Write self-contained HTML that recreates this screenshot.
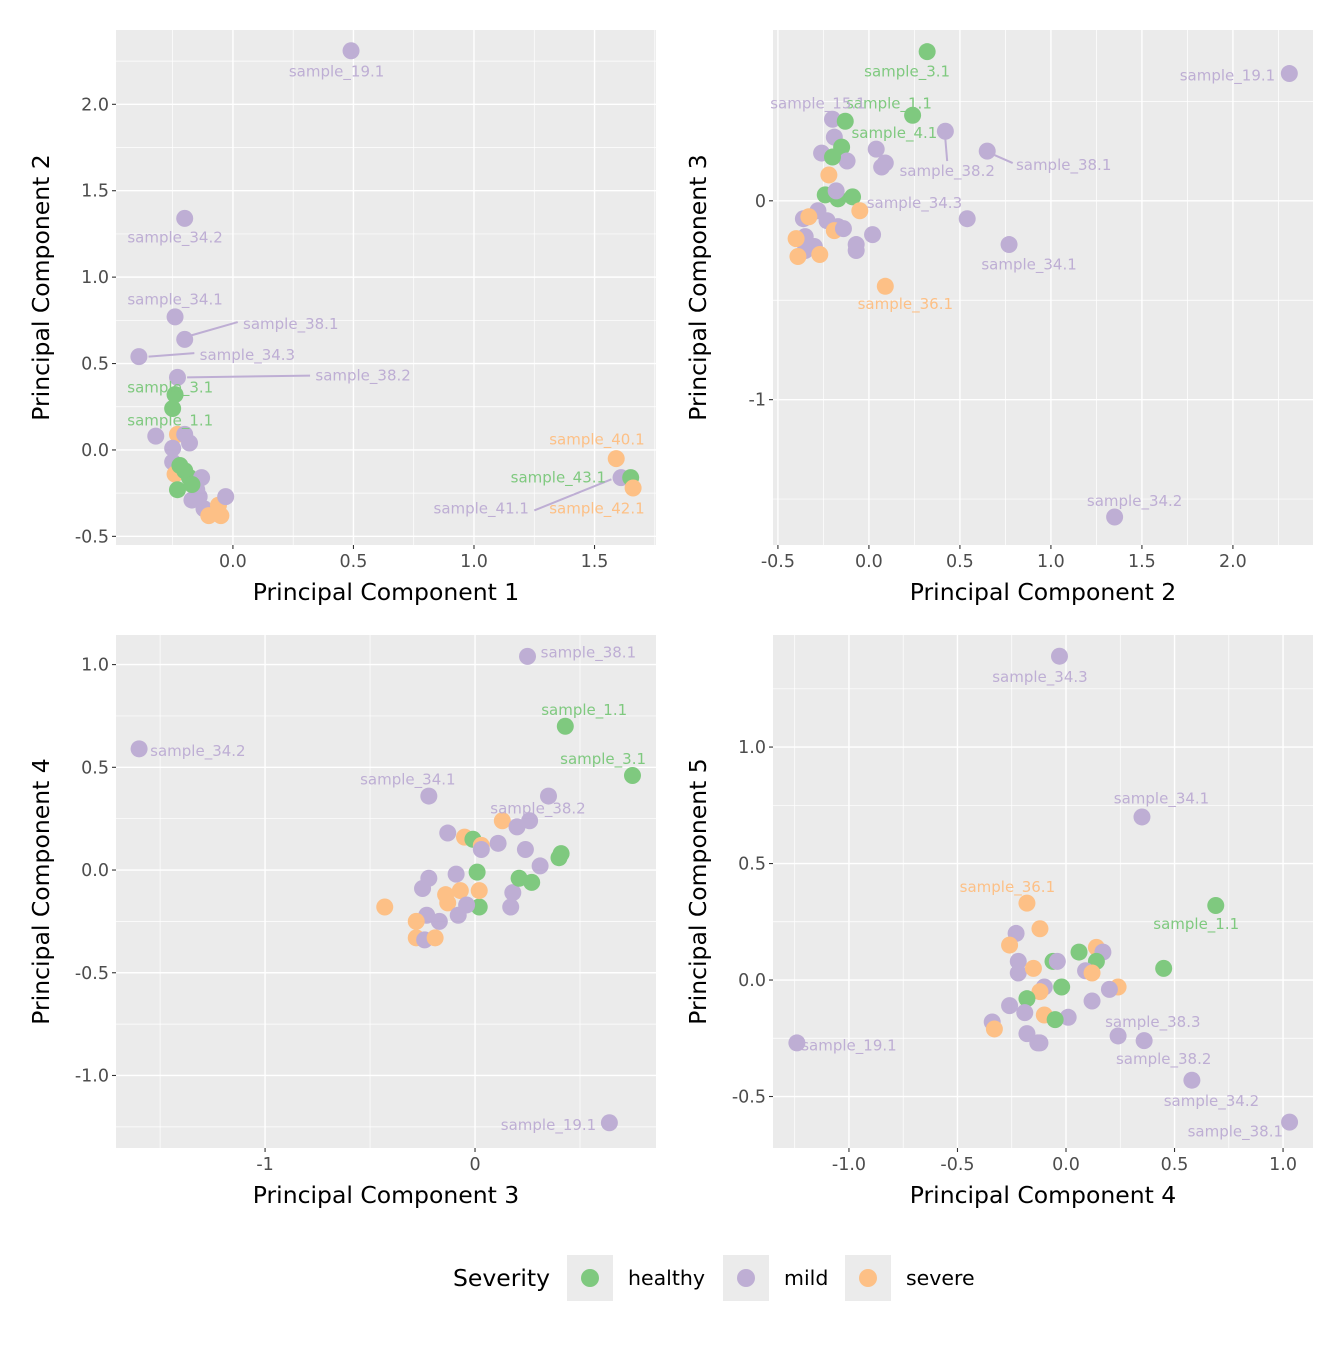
<!DOCTYPE html>
<html><head><meta charset="utf-8"><style>
body{margin:0;background:#fff}
svg text{font-family:"DejaVu Sans","Liberation Sans",sans-serif}
</style></head><body>
<svg id="c" width="1344" height="1344" xmlns="http://www.w3.org/2000/svg"></svg>
<script>
const groups=['healthy','mild','severe'];
const colors={healthy:'#7fc97f',mild:'#beaed4',severe:'#fdc086'};
// Panel 1: PC1 vs PC2
const p1x=[0.49,-0.20,-0.24,-0.20,-0.39,-0.23,-0.24,-0.25,-0.32,-0.23,-0.20,-0.18,-0.25,-0.25,-0.24,-0.22,-0.20,-0.18,-0.23,-0.13,-0.15,-0.17,-0.14,-0.12,-0.10,-0.05,-0.06,-0.03,-0.17,1.59,1.61,1.65,1.66];
const p1y=[2.31,1.34,0.77,0.64,0.54,0.42,0.32,0.24,0.08,0.09,0.09,0.04,0.01,-0.07,-0.14,-0.09,-0.12,-0.16,-0.23,-0.16,-0.23,-0.29,-0.27,-0.34,-0.38,-0.38,-0.32,-0.27,-0.20,-0.05,-0.16,-0.16,-0.22];
const p1g=['mild','mild','mild','mild','mild','mild','healthy','healthy','mild','severe','mild','mild','mild','mild','severe','healthy','healthy','healthy','healthy','mild','mild','mild','mild','mild','severe','severe','severe','mild','healthy','severe','mild','healthy','severe'];
// Panel 2: PC2 vs PC3
const p2x=[2.31,1.35,0.32,0.24,0.42,0.65,0.04,0.09,0.07,0.54,0.77,0.09,-0.20,-0.13,-0.19,-0.15,-0.26,-0.12,-0.20,-0.22,-0.24,-0.17,-0.09,-0.18,-0.28,-0.05,-0.23,-0.17,-0.19,-0.14,-0.36,-0.33,-0.35,-0.30,-0.35,-0.40,-0.39,-0.27,-0.07,-0.07,0.02];
const p2y=[0.64,-1.59,0.75,0.43,0.35,0.25,0.26,0.19,0.17,-0.09,-0.22,-0.43,0.41,0.40,0.32,0.27,0.24,0.20,0.22,0.13,0.03,0.01,0.02,0.05,-0.05,-0.05,-0.10,-0.13,-0.15,-0.14,-0.09,-0.08,-0.18,-0.23,-0.25,-0.19,-0.28,-0.27,-0.22,-0.25,-0.17];
const p2g=['mild','mild','healthy','healthy','mild','mild','mild','mild','mild','mild','mild','severe','mild','healthy','mild','healthy','mild','mild','healthy','severe','healthy','healthy','healthy','mild','mild','severe','mild','mild','severe','mild','mild','severe','mild','mild','mild','severe','severe','severe','mild','mild','mild'];
// Panel 3: PC3 vs PC4
const p3x=[-1.60,0.25,0.43,0.75,-0.22,0.64,0.35,-0.43,-0.13,-0.05,-0.01,0.03,0.03,0.11,0.13,0.20,0.26,0.24,0.31,0.41,0.40,0.01,0.18,0.21,0.27,0.17,0.02,0.02,-0.09,-0.07,-0.14,-0.13,-0.22,-0.25,-0.04,-0.08,-0.17,-0.23,-0.28,-0.28,-0.24,-0.19];
const p3y=[0.59,1.04,0.70,0.46,0.36,-1.23,0.36,-0.18,0.18,0.16,0.15,0.12,0.10,0.13,0.24,0.21,0.24,0.10,0.02,0.08,0.06,-0.01,-0.11,-0.04,-0.06,-0.18,-0.18,-0.10,-0.02,-0.10,-0.12,-0.16,-0.04,-0.09,-0.17,-0.22,-0.25,-0.22,-0.25,-0.33,-0.34,-0.33];
const p3g=['mild','mild','healthy','healthy','mild','mild','mild','severe','mild','severe','healthy','severe','mild','mild','severe','mild','mild','mild','mild','healthy','healthy','healthy','mild','healthy','healthy','mild','healthy','severe','mild','severe','severe','severe','mild','mild','mild','mild','mild','mild','severe','severe','mild','severe'];
// Panel 4: PC4 vs PC5
const p4x=[-0.03,0.35,0.69,-0.18,0.45,-1.24,0.24,0.36,0.58,1.03,-0.12,-0.23,-0.26,-0.22,-0.22,-0.15,-0.06,-0.04,0.06,0.14,0.17,0.14,0.09,0.12,0.24,0.20,0.12,-0.02,-0.10,-0.12,-0.18,-0.26,-0.19,-0.10,0.01,-0.05,-0.34,-0.33,-0.18,-0.12,-0.13];
const p4y=[1.39,0.70,0.32,0.33,0.05,-0.27,-0.24,-0.26,-0.43,-0.61,0.22,0.20,0.15,0.08,0.03,0.05,0.08,0.08,0.12,0.14,0.12,0.08,0.04,0.03,-0.03,-0.04,-0.09,-0.03,-0.03,-0.05,-0.08,-0.11,-0.14,-0.15,-0.16,-0.17,-0.18,-0.21,-0.23,-0.27,-0.27];
const p4g=['mild','mild','healthy','severe','healthy','mild','mild','mild','mild','mild','severe','mild','severe','mild','mild','severe','healthy','mild','healthy','severe','mild','healthy','mild','severe','severe','mild','mild','healthy','mild','severe','healthy','mild','mild','severe','mild','healthy','mild','severe','mild','mild','mild'];
// Tick labels
const p1xt=[0,0.5,1,1.5], p1yt=[-0.5,0,0.5,1,1.5,2];
const p2xt=[-0.5,0,0.5,1,1.5,2], p2yt=[-1,0];
const p3xt=[-1,0], p3yt=[-1,-0.5,0,0.5,1];
const p4xt=[-1,-0.5,0,0.5,1], p4yt=[-0.5,0,0.5,1];
// Labels: [text, group, tx, ty, optional segment x1,y1,x2,y2] (data coords)
const p1lab=[['sample_19.1','mild',0.43,2.19],['sample_34.2','mild',-0.24,1.23],['sample_34.1','mild',-0.24,0.87],['sample_38.1','mild',0.24,0.73,-0.18,0.66,0.02,0.74],['sample_34.3','mild',0.06,0.55,-0.35,0.54,-0.16,0.56],['sample_38.2','mild',0.54,0.43,-0.19,0.42,0.32,0.43],['sample_3.1','healthy',-0.26,0.36],['sample_1.1','healthy',-0.26,0.17],['sample_40.1','severe',1.51,0.06],['sample_43.1','healthy',1.35,-0.16],['sample_41.1','mild',1.03,-0.34,1.25,-0.35,1.57,-0.17],['sample_42.1','severe',1.51,-0.34]];
const p2lab=[['sample_19.1','mild',1.97,0.63],['sample_34.2','mild',1.46,-1.51],['sample_3.1','healthy',0.21,0.65],['sample_1.1','healthy',0.11,0.49],['sample_15.1','mild',-0.28,0.49],['sample_4.1','healthy',0.14,0.34],['sample_38.2','mild',0.43,0.15,0.42,0.31,0.43,0.20],['sample_38.1','mild',1.07,0.18,0.69,0.23,0.79,0.19],['sample_34.3','mild',0.25,-0.01],['sample_34.1','mild',0.88,-0.32],['sample_36.1','severe',0.20,-0.52]];
const p3lab=[['sample_34.2','mild',-1.32,0.58],['sample_38.1','mild',0.54,1.06],['sample_1.1','healthy',0.52,0.78],['sample_3.1','healthy',0.61,0.54],['sample_34.1','mild',-0.32,0.44],['sample_19.1','mild',0.35,-1.24],['sample_38.2','mild',0.30,0.30]];
const p4lab=[['sample_34.3','mild',-0.12,1.30],['sample_34.1','mild',0.44,0.78],['sample_1.1','healthy',0.60,0.24],['sample_36.1','severe',-0.27,0.40],['sample_19.1','mild',-1.00,-0.28],['sample_38.3','mild',0.40,-0.18],['sample_38.2','mild',0.45,-0.34],['sample_34.2','mild',0.67,-0.52],['sample_38.1','mild',0.78,-0.65]];

const svg=document.getElementById('c');
const NS='http://www.w3.org/2000/svg';
function mk(tag,attrs,parent){const e=document.createElementNS(NS,tag);for(const k in attrs)e.setAttribute(k,attrs[k]);(parent||svg).appendChild(e);return e;}
function fmt(v,dec){return (v<0?'-':'')+Math.abs(v).toFixed(dec);}
function panel(o){
  const {L,T,W,H,xmin,xmax,ymin,ymax,xs,ys,gs,xt,yt,dec,xdec,labs,xtitle,ytitle,key}=o;
  const X=v=>L+(v-xmin)/(xmax-xmin)*W, Y=v=>T+(ymax-v)/(ymax-ymin)*H;
  const g=mk('g',{});
  
  
  const bg=mk('rect',{x:L,y:T,width:W,height:H,fill:'#ebebeb'},g);
  
  
  const xstep=xt[1]-xt[0], ystep=yt[1]-yt[0];
  for(let v=xt[0]-xstep*3.5;v<=xmax;v+=xstep){if(v>=xmin)mk('line',{x1:X(v),x2:X(v),y1:T,y2:T+H,stroke:'#fff','stroke-width':0.7},g);}
  for(let v=yt[0]-ystep*3.5;v<=ymax;v+=ystep){if(v>=ymin)mk('line',{x1:L,x2:L+W,y1:Y(v),y2:Y(v),stroke:'#fff','stroke-width':0.7},g);}
  xt.forEach(v=>{mk('line',{x1:X(v),x2:X(v),y1:T,y2:T+H,stroke:'#fff','stroke-width':1.4},g);
    mk('line',{x1:X(v),x2:X(v),y1:T+H,y2:T+H+4,stroke:'#333','stroke-width':1.1},g);
    const t=mk('text',{x:X(v),y:T+H+22,'text-anchor':'middle','font-size':17.5,fill:'#4d4d4d'},g);t.textContent=fmt(v,xdec);
    
    });
  yt.forEach(v=>{mk('line',{x1:L,x2:L+W,y1:Y(v),y2:Y(v),stroke:'#fff','stroke-width':1.4},g);
    mk('line',{x1:L-4,x2:L,y1:Y(v),y2:Y(v),stroke:'#333','stroke-width':1.1},g);
    const t=mk('text',{x:L-7,y:Y(v)+6,'text-anchor':'end','font-size':17.5,fill:'#4d4d4d'},g);t.textContent=fmt(v,dec);
    
    });
  labs.forEach(l=>{if(l.length>4){const s=mk('line',{x1:X(l[4]),y1:Y(l[5]),x2:X(l[6]),y2:Y(l[7]),stroke:colors[l[1]],'stroke-width':2},g);
    
    }});
  xs.forEach((x,i)=>{const c=mk('circle',{cx:X(x),cy:Y(ys[i]),r:8.5,fill:colors[gs[i]]},g);
    
    });
  labs.forEach(l=>{const t=mk('text',{x:X(l[2]),y:Y(l[3])+5,'text-anchor':'middle','font-size':15,fill:colors[l[1]]},g);t.textContent=l[0];
    
    });
  const xtl=mk('text',{x:L+W/2,y:T+H+55,'text-anchor':'middle','font-size':23.5,fill:'#000'},g);xtl.textContent=xtitle;
  
  
  const ytl=mk('text',{x:0,y:0,'text-anchor':'middle','font-size':23.5,fill:'#000',transform:`translate(${L-67},${T+H/2}) rotate(-90)`},g);ytl.textContent=ytitle;
  
  
}
panel({key:'pc1-pc2',L:116,T:30,W:540,H:515,xmin:-0.485,xmax:1.755,ymin:-0.55,ymax:2.43,xs:p1x,ys:p1y,gs:p1g,xt:p1xt,yt:p1yt,dec:1,xdec:1,labs:p1lab,xtitle:'Principal Component 1',ytitle:'Principal Component 2'});
panel({key:'pc2-pc3',L:773,T:30,W:540,H:515,xmin:-0.527,xmax:2.44,ymin:-1.731,ymax:0.859,xs:p2x,ys:p2y,gs:p2g,xt:p2xt,yt:p2yt,dec:0,xdec:1,labs:p2lab,xtitle:'Principal Component 2',ytitle:'Principal Component 3'});
panel({key:'pc3-pc4',L:116,T:635,W:540,H:513,xmin:-1.71,xmax:0.862,ymin:-1.353,ymax:1.144,xs:p3x,ys:p3y,gs:p3g,xt:p3xt,yt:p3yt,dec:1,xdec:0,labs:p3lab,xtitle:'Principal Component 3',ytitle:'Principal Component 4'});
panel({key:'pc4-pc5',L:773,T:635,W:540,H:513,xmin:-1.35,xmax:1.138,ymin:-0.721,ymax:1.481,xs:p4x,ys:p4y,gs:p4g,xt:p4xt,yt:p4yt,dec:1,xdec:1,labs:p4lab,xtitle:'Principal Component 4',ytitle:'Principal Component 5'});
// legend
const lg=mk('g',{});


const lt=mk('text',{x:453,y:1286,'font-size':23.5,fill:'#000'},lg);lt.textContent='Severity';


const lx=[567,723,845];
groups.forEach((gname,i)=>{
  const r=mk('rect',{x:lx[i],y:1255,width:46,height:46,fill:'#ebebeb'},lg);
  
  
  mk('circle',{cx:lx[i]+23,cy:1278,r:9,fill:colors[gname]},lg);
  const t=mk('text',{x:lx[i]+61,y:1285,'font-size':20.5,fill:'#000'},lg);t.textContent=gname;
  
  
});
</script>
</body></html>
